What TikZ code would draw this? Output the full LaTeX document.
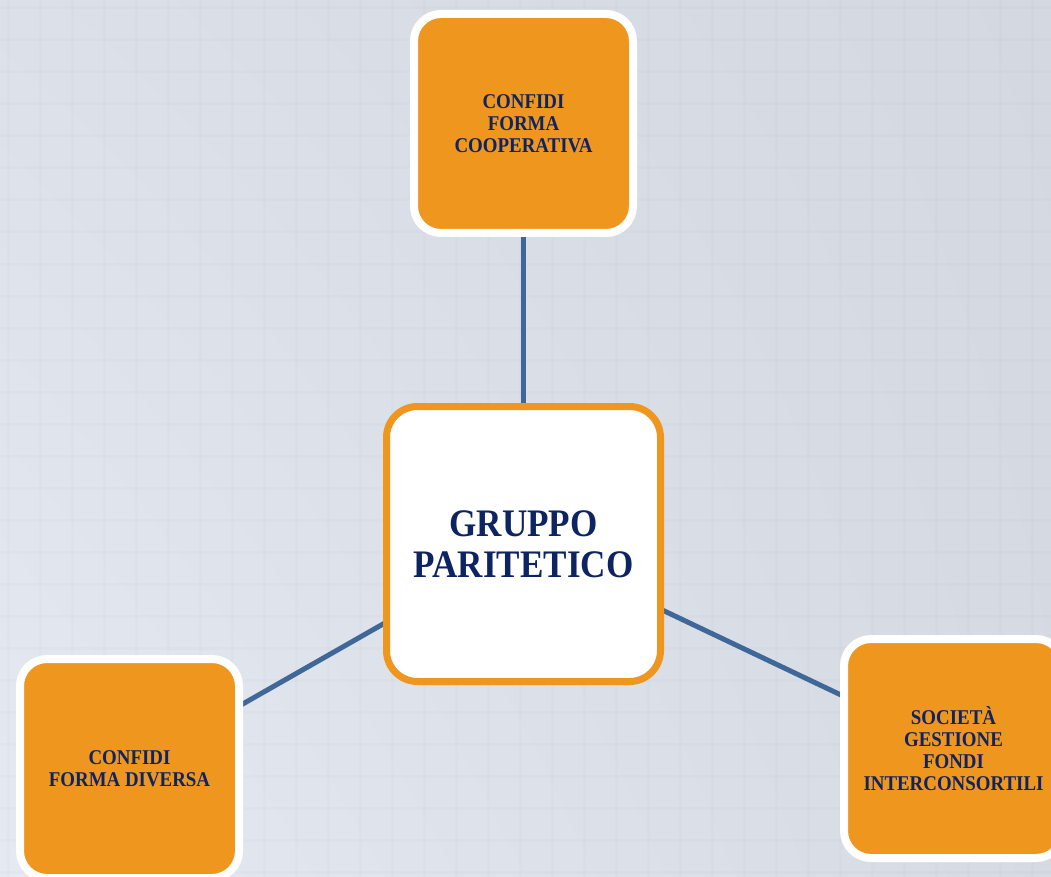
\documentclass[tikz,border=0pt]{standalone}
\usepackage{fontspec}
\usetikzlibrary{shadings}
\newfontfamily\boxfont{Liberation Serif}[FakeStretch=0.9]
\pgfdeclarelayer{back}
\pgfdeclarelayer{lines}
\pgfsetlayers{back,lines,main}
\definecolor{bgUL}{HTML}{DCE0E8}
\definecolor{bgUR}{HTML}{D3D8E1}
\definecolor{bgLL}{HTML}{E5E9F1}
\definecolor{bgLR}{HTML}{D6DBE3}
\definecolor{boxorange}{HTML}{EE961E}
\definecolor{navytext}{HTML}{0E2462}
\definecolor{linkblue}{HTML}{3F6898}
\tikzset{
  leafbox/.style={rectangle, rounded corners=27pt, draw=white, line width=8pt,
    fill=boxorange, minimum width=219pt, minimum height=219pt, inner sep=0pt,
    align=center, text=navytext,
    font=\boxfont\bfseries\fontsize{21}{22}\selectfont},
  hubbox/.style={rectangle, rounded corners=31pt, draw=boxorange, line width=7pt,
    fill=white, minimum width=274pt, minimum height=275pt, inner sep=0pt,
    align=center, text=navytext,
    font=\boxfont\bfseries\fontsize{39}{41}\selectfont},
  link/.style={draw=linkblue, line width=5pt},
  gridline/.style={black, opacity=0.012, line width=3pt}
}
\begin{document}
\begin{tikzpicture}[x=1pt,y=-1pt]
\useasboundingbox (0,0) rectangle (1051,877);
\begin{pgfonlayer}{back}
  \shade[upper left=bgUL, upper right=bgUR, lower left=bgLL, lower right=bgLR]
    (0,0) rectangle (1051,877);
  \foreach \gx in {8,40,...,1051} {
    \draw[gridline] (\gx,0) -- (\gx,877);
  }
  \foreach \gy in {8,40,...,877} {
    \draw[gridline] (0,\gy) -- (1051,\gy);
  }
\end{pgfonlayer}

\node[hubbox] (hub) at (523.5,544) {GRUPPO\\PARITETICO};
\node[leafbox] (top) at (523.5,123.5) {CONFIDI\\FORMA\\COOPERATIVA};
\node[leafbox] (left) at (129.5,768.5) {CONFIDI\\FORMA DIVERSA};
\node[leafbox] (right) at (953.5,748.5) {SOCIETÀ\\GESTIONE\\FONDI\\INTERCONSORTILI};

\begin{pgfonlayer}{lines}
  \draw[link] (hub.center) -- (top.center);
  \draw[link] (hub.center) -- (left.center);
  \draw[link] (hub.center) -- (right.center);
\end{pgfonlayer}
\end{tikzpicture}
\end{document}
